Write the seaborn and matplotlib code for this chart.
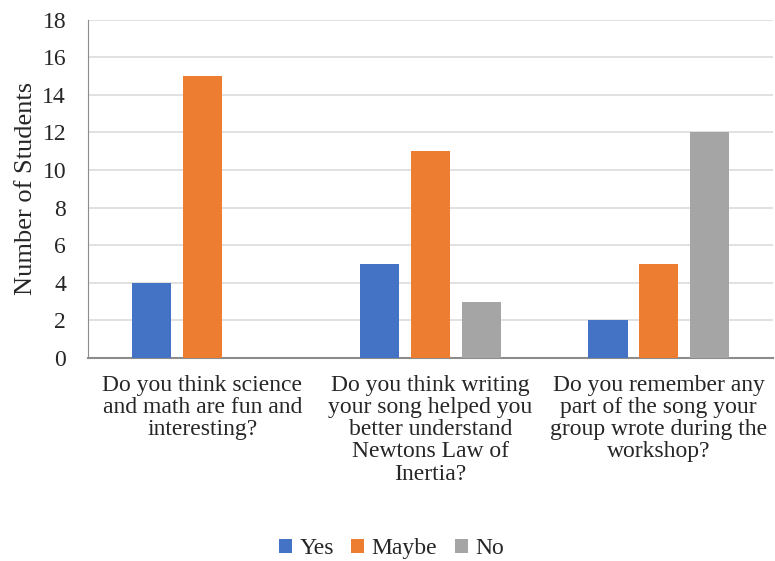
import pandas as pd
import matplotlib.pyplot as plt
import seaborn as sns

# data
questions = [
    "Do you think science\nand math are fun and\ninteresting?",
    "Do you think writing\nyour song helped you\nbetter understand\nNewtons Law of\nInertia?",
    "Do you remember any\npart of the song your\ngroup wrote during the\nworkshop?",
]
answers = ["Yes", "Maybe", "No"]
yes_counts = [4, 5, 2]
maybe_counts = [15, 11, 5]
no_counts = [0, 3, 12]

df = pd.DataFrame({
    "Question": questions * 3,
    "Answer": ["Yes"] * 3 + ["Maybe"] * 3 + ["No"] * 3,
    "Count": yes_counts + maybe_counts + no_counts,
})

sns.set_style("white")
plt.rcParams["font.family"] = ["Liberation Serif", "DejaVu Serif"]

fig, ax = plt.subplots(figsize=(7.75, 5.61), dpi=100)
palette = {"Yes": "#4472C4", "Maybe": "#ED7D31", "No": "#A5A5A5"}
sns.barplot(data=df, x="Question", y="Count", hue="Answer", hue_order=answers,
            palette=palette, saturation=1, width=0.67, gap=0.22, linewidth=0,
            ax=ax, zorder=3)

ax.set_ylim(0, 18)
ax.set_yticks(range(0, 19, 2))
ax.set_xlim(-0.5, 2.5)
ax.yaxis.grid(True, color="#D9D9D9", linewidth=1.1, zorder=0)
ax.set_axisbelow(True)
ax.set_xlabel("")
ax.set_ylabel("Number of Students", fontsize=19, labelpad=4)
ax.tick_params(axis="both", labelsize=17, length=0)
ax.tick_params(axis="y", pad=16)
ax.tick_params(axis="x", pad=12)
for lbl in ax.get_xticklabels():
    lbl.set_linespacing(1.08)

for side in ["top", "right"]:
    ax.spines[side].set_visible(False)
ax.spines["left"].set_color("#8C8C8C")
ax.spines["bottom"].set_color("#8C8C8C")
ax.spines["bottom"].set_linewidth(1.5)

handles, labels = ax.get_legend_handles_labels()
ax.get_legend().remove()
fig.legend(handles, labels, loc="center", bbox_to_anchor=(0.505, 0.022), ncol=3,
           frameon=False, fontsize=17, handlelength=0.55, handleheight=0.55,
           handletextpad=0.3, columnspacing=0.75)

plt.subplots_adjust(left=0.114, right=0.997, top=0.965, bottom=0.362)
plt.savefig("out.png", dpi=100)
